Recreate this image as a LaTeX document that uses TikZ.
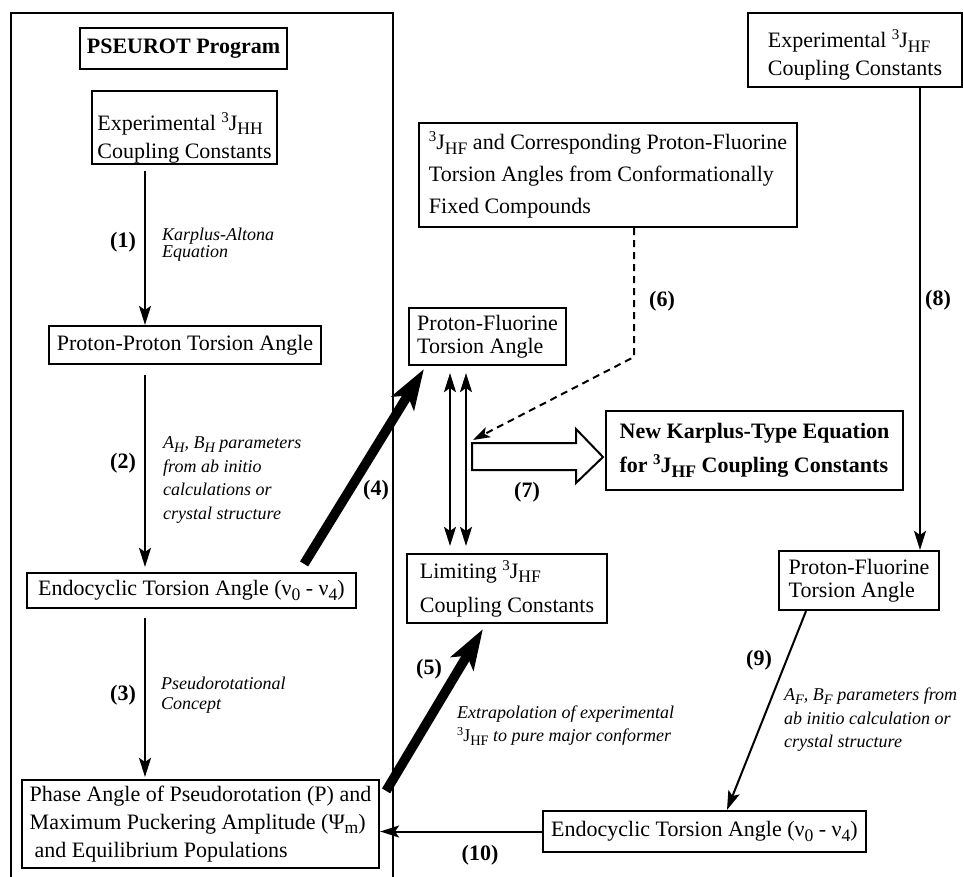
\documentclass[tikz,border=0pt]{standalone}
\usepackage{fontspec}
\setmainfont{Liberation Serif}
\usetikzlibrary{arrows.meta}
\newcommand{\mysb}[1]{\raisebox{-0.45ex}{\scalebox{0.8}{#1}}}
\newcommand{\mysp}[1]{\raisebox{0.8ex}{\scalebox{0.68}{#1}}}
\begin{document}
\begin{tikzpicture}[x=1pt,y=-1pt,
  bx/.style={draw, line width=2.2pt, inner sep=0pt, align=left, font=\fontsize{22}{28}\selectfont},
  bxb/.style={bx, font=\bfseries\fontsize{22}{34}\selectfont},
  num/.style={inner sep=0pt, font=\bfseries\fontsize{22}{26}\selectfont},
  itl/.style={inner sep=0pt, anchor=west, align=left, font=\itshape\fontsize{18}{23.5}\selectfont},
  arr/.style={line width=2pt, -{Stealth[length=19pt,width=12pt,inset=4pt]}},
  dbl/.style={line width=2pt, {Stealth[length=19pt,width=12pt,inset=4pt]}-{Stealth[length=19pt,width=12pt,inset=4pt]}},
  thk/.style={line width=9.5pt, -{Stealth[length=40pt,width=26pt,inset=9pt]}},
  dsh/.style={line width=2pt, dash pattern=on 7pt off 5pt, -{Stealth[length=17pt,width=11pt,inset=4pt]}}
]
\useasboundingbox (0,0) rectangle (964,877);

% program frame
\draw[line width=2.4pt] (11,877) -- (11,13) -- (393,13) -- (393,877);

% boxes
\node[bxb, font=\bfseries\fontsize{22}{26}\selectfont, minimum width=207pt, minimum height=41pt] (pseurot) at (183.5,48.5) {PSEUROT Program};
\node[bx, minimum width=185pt, minimum height=73pt] (exphh) at (184.5,127.5) {\rule{0pt}{38pt}Experimental \mysp{3}J\mysb{HH}\\Coupling Constants};
\node[bx, minimum width=272pt, minimum height=38pt] (pp) at (185,345) {Proton-Proton Torsion Angle};
\node[bx, minimum width=329pt, minimum height=35pt] (endo) at (191.5,590.5) {Endocyclic Torsion Angle (ν\mysb{0} - ν\mysb{4})};
\node[bx, minimum width=357pt, minimum height=88pt] (phase) at (200.5,824) {Phase Angle of Pseudorotation (P) and\\Maximum Puckering Amplitude (Ψ\mysb{m})\\\hspace*{5pt}and Equilibrium Populations};

\node[bx, minimum width=214pt, minimum height=74pt] (exphf) at (855,50) {\rule{0pt}{28pt}Experimental \mysp{3}J\mysb{HF}\\Coupling Constants};
\node[bx, font=\fontsize{22}{32}\selectfont, minimum width=378pt, minimum height=104pt] (hfcomp) at (608,175) {\mysp{3}J\mysb{HF} and Corresponding Proton-Fluorine\\Torsion Angles from Conformationally\\Fixed Compounds};
\node[bx, font=\fontsize{22}{23}\selectfont, minimum width=157pt, minimum height=57pt] (pfm) at (487.5,336.5) {Proton-Fluorine\\Torsion Angle};
\node[bx, font=\fontsize{22}{34}\selectfont, minimum width=200pt, minimum height=69pt] (lim) at (507,588.5) {Limiting \mysp{3}J\mysb{HF}\\Coupling Constants};
\node[bxb, minimum width=297pt, minimum height=79pt] (newk) at (754.5,450.5) {New Karplus-Type Equation\\for \mysp{3}J\mysb{HF} Coupling Constants};
\node[bx, font=\fontsize{22}{23}\selectfont, minimum width=160pt, minimum height=59pt] (pfr) at (859,580.5) {Proton-Fluorine\\Torsion Angle};
\node[bx, minimum width=323pt, minimum height=41pt] (endor) at (704.5,831.5) {Endocyclic Torsion Angle (ν\mysb{0} - ν\mysb{4})};

% helper coordinates
\coordinate (xa) at (145,0);
\coordinate (xb) at (920,0);
\coordinate (xc) at (450,0);
\coordinate (xd) at (466,0);
\coordinate (b7) at (472,443);
\coordinate (d7) at (473,440);
\coordinate (dbend) at (634,357);

% connectors
\draw[arr, shorten <=6pt] (exphh.south -| xa) -- (pp.north -| xa);
\draw[arr, shorten <=10pt, shorten >=5pt] (pp.south -| xa) -- (endo.north -| xa);
\draw[arr, shorten <=9pt, shorten >=2pt] (endo.south -| xa) -- (phase.north -| xa);
\draw[arr] (exphf.south -| xb) -- (pfr.north -| xb);
\draw[arr] ([xshift=-53pt]pfr.south) -- ([xshift=22.5pt]endor.north);
\draw[arr] (endor.west) -- (endor.west -| phase.east);
\draw[thk] ([xshift=-53pt,yshift=8pt]endo.north east) -- ([xshift=16pt,yshift=-3pt]pfm.south west);
\draw[thk] ([xshift=6pt,yshift=-12pt]phase.north east) -- ([xshift=77pt,yshift=-5pt]lim.south west);
\draw[dbl, shorten <=7pt, shorten >=7pt] (pfm.south -| xc) -- (lim.north -| xc);
\draw[dbl, shorten <=7pt, shorten >=7pt] (pfm.south -| xd) -- (lim.north -| xd);
\draw[dsh] ([xshift=26pt]hfcomp.south) -- (dbend) -- (d7);
\draw[line width=2pt, line join=miter] (b7) -- ++(104,0) -- ++(0,-14) -- ++(27,28) -- ++(-27,26) -- ++(0,-13) -- ++(-104,0) -- cycle;

% labels
\node[num] (n1) at (123,242) {(1)};
\node[itl, font=\itshape\fontsize{18}{17}\selectfont] (t1) at (162,245) {Karplus-Altona\\Equation};
\node[num] (n2) at (123,463) {(2)};
\node[itl] (t2) at (163,480) {A\mysb{H}, B\mysb{H} parameters\\from ab initio\\calculations or\\crystal structure};
\node[num] (n3) at (123,695) {(3)};
\node[itl, font=\itshape\fontsize{18}{19.5}\selectfont] (t3) at (161,695) {Pseudorotational\\Concept};
\node[num] (n4) at (376,490) {(4)};
\node[num] (n5) at (429,669) {(5)};
\node[itl, font=\itshape\fontsize{18}{23}\selectfont] (t5) at (457,726) {Extrapolation of experimental\\{\upshape\mysp{3}J\mysb{HF}} to pure major conformer};
\node[num] (n6) at (662,301) {(6)};
\node[num] (n7) at (527,492) {(7)};
\node[num] (n8) at (938,300) {(8)};
\node[num] (n9) at (759,660) {(9)};
\node[itl] (t9) at (784,720) {A\mysb{F}, B\mysb{F} parameters from\\ab initio calculation or\\crystal structure};
\node[num] (n10) at (480,855) {(10)};
\end{tikzpicture}
\end{document}
